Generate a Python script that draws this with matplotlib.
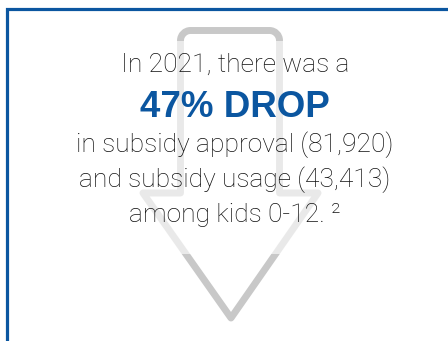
import matplotlib
matplotlib.use("Agg")
import matplotlib.pyplot as plt
from matplotlib.path import Path
from matplotlib.patches import PathPatch, Rectangle

# ---- data ----
year = 2021
approvals = 81920
usage = 43413
drop_pct = 47
age_range = "0-12"
footnote = "²"

line1 = f"In {year}, there was a"
line2 = f"{drop_pct}% DROP"
line3 = f"in subsidy approval ({approvals:,})"
line4 = f"and subsidy usage ({usage:,})"
line5 = f"among kids {age_range}. {footnote}"

# ---- style ----
BLUE = "#0b56a0"
TEXT = "#111111"
ARROW = "#c8c8c8"

W, H = 448, 341
fig = plt.figure(figsize=(W / 100, H / 100), dpi=100)
ax = fig.add_axes([0, 0, 1, 1])
ax.set_xlim(0, W)
ax.set_ylim(H, 0)
ax.axis("off")

# border (top + left)
ax.plot([6.8, 6.8, W + 10], [H + 10, 9.3, 9.3], color=BLUE, lw=2.3,
        solid_joinstyle="miter", clip_on=True)

# arrow outline (centerline of stroke)
L, R, top, r = 180.5, 279.5, 30.5, 10
sh_y, hl, hr, tip_x, tip_y = 193, 143, 318, 231, 318
k = 0.5523 * r
verts = [
    (L, sh_y), (L, top + r),
    (L, top + r - k), (L + r - k, top), (L + r, top),
    (R - r, top),
    (R - r + k, top), (R, top + r - k), (R, top + r),
    (R, sh_y), (hr, sh_y), (tip_x, tip_y), (hl, sh_y), (L, sh_y),
]
codes = [Path.MOVETO, Path.LINETO,
         Path.CURVE4, Path.CURVE4, Path.CURVE4,
         Path.LINETO,
         Path.CURVE4, Path.CURVE4, Path.CURVE4,
         Path.LINETO, Path.LINETO, Path.LINETO, Path.LINETO, Path.CLOSEPOLY]
arrow = PathPatch(Path(verts, codes), fill=False, edgecolor=ARROW,
                  lw=5.0, joinstyle="round", capstyle="round")
ax.add_patch(arrow)

# translucent white band behind the text
ax.add_patch(Rectangle((20, 41), 410, 213, facecolor="white", alpha=0.62,
                       edgecolor="none"))

cx = 235
light = dict(family=["Roboto", "DejaVu Sans"], fontweight="light",
             fontsize=19, color=TEXT, ha="center", va="baseline")
ax.text(cx, 72, line1, **light)
ax.text(cx, 117, line2, family=["Liberation Sans", "DejaVu Sans"],
        fontweight="bold", fontsize=26.5, color=BLUE, ha="center",
        va="baseline")
ax.text(cx, 152, line3, **light)
ax.text(cx, 187, line4, **light)
ax.text(cx, 222, line5, **light)

fig.savefig("out.png", dpi=100)
